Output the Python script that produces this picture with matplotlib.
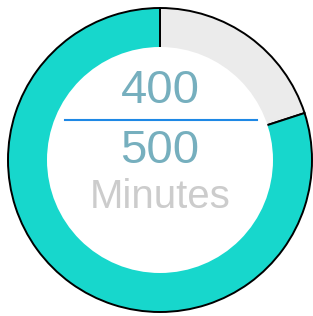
import matplotlib.pyplot as plt
from matplotlib.patches import Circle

# data
done = 400
total = 500
unit = "Minutes"
remaining = total - done
colors = ["#EBEBEB", "#17D7CC"]


def main():
    fig = plt.figure(figsize=(3.13, 3.16), dpi=100)
    ax = fig.add_axes([0, 0, 1, 1])

    cx, cy = 160, 156
    ax.pie([remaining, done], colors=colors, startangle=90, counterclock=False,
           center=(cx, cy), radius=152, frame=True,
           wedgeprops=dict(edgecolor="black", linewidth=1.4))
    # white hole in the middle hides the inner part of the radial lines
    ax.add_patch(Circle((cx, cy), 113, facecolor="white", edgecolor="none", zorder=5))
    ax.set_xlim(0, 313)
    ax.set_ylim(0, 316)
    ax.set_aspect("equal")
    ax.axis("off")

    ax.text(cx, 316 - 103, str(done), ha="center", va="baseline", fontsize=34,
            color="#76AFBE", family="Liberation Sans", zorder=6)
    ax.plot([65, 257], [316 - 120, 316 - 120], color="#1E88E5", lw=1.5, zorder=6)
    ax.text(cx, 316 - 163, str(total), ha="center", va="baseline", fontsize=34,
            color="#76AFBE", family="Liberation Sans", zorder=6)
    ax.text(cx, 316 - 208, unit, ha="center", va="baseline", fontsize=29,
            color="#CCCCCC", family="Liberation Sans", zorder=6)

    fig.savefig("out.png", dpi=100)


if __name__ == "__main__":
    main()
